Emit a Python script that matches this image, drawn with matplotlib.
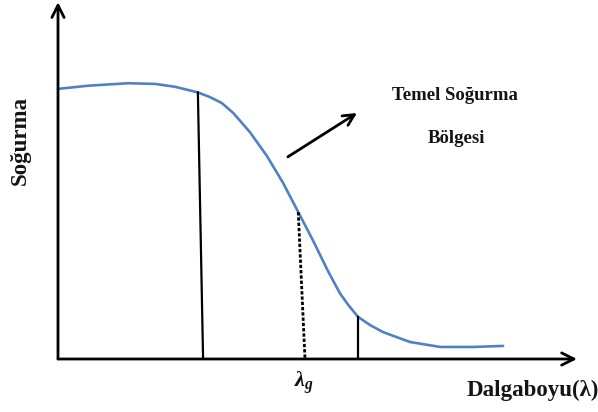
import matplotlib
matplotlib.use("Agg")
import matplotlib.pyplot as plt

plt.rcParams['font.family'] = ['Liberation Serif', 'DejaVu Serif']
plt.rcParams['mathtext.fontset'] = 'custom'
plt.rcParams['mathtext.it'] = 'Liberation Serif:italic:bold'
plt.rcParams['mathtext.rm'] = 'Liberation Serif:bold'

# absorption curve (wavelength, absorbance), 0-100 units
wavelength = [0.0, 5.8, 13.5, 18.7, 22.5, 26.9, 29.2, 31.5, 33.7, 36.9, 40.2,
              43.3, 46.2, 49.0, 51.9, 54.2, 55.8, 57.7, 60.0, 62.5, 67.7,
              73.5, 79.8, 85.6]
absorbance = [76.3, 77.2, 77.9, 77.7, 76.9, 75.3, 74.0, 72.3, 69.5, 64.1, 57.3,
              49.7, 41.5, 33.6, 24.9, 18.6, 15.3, 11.9, 9.6, 7.6, 4.8,
              3.4, 3.4, 3.7]

# vertical markers: (x at curve, x at axis, height)
solid_markers = [(26.9, 27.9, 75.3), (57.7, 57.7, 11.9)]
gap_marker = (46.2, 47.5, 41.5)

# arrow pointing to the label
arrow_start = (44.2, 57.1)
arrow_end = (57.5, 69.5)

fig = plt.figure(figsize=(5.98, 4.12), dpi=100)
ax = fig.add_axes([58 / 598, 1 - 359 / 412, 520 / 598, 354 / 412])
ax.set_xlim(0, 100)
ax.set_ylim(0, 100)
ax.axis('off')

# axes with arrow heads
ax.annotate('', xy=(99.8, 0), xytext=(0, 0),
            arrowprops=dict(arrowstyle='->', lw=2.0, color='black',
                            mutation_scale=22, shrinkA=0, shrinkB=0),
            annotation_clip=False)
ax.annotate('', xy=(0, 100.8), xytext=(0, 0),
            arrowprops=dict(arrowstyle='->', lw=2.0, color='black',
                            mutation_scale=22, shrinkA=0, shrinkB=0),
            annotation_clip=False)

ax.plot(wavelength, absorbance, color='#4F81C7', lw=1.9, clip_on=False,
        solid_capstyle='round', solid_joinstyle='round')

for xt, xb, h in solid_markers:
    ax.plot([xt, xb], [h, 0], color='black', lw=1.6)
ax.plot([gap_marker[0], gap_marker[1]], [gap_marker[2], 0], color='black',
        lw=2.0, ls=(0, (1.2, 0.7)))

ax.annotate('', xy=arrow_end, xytext=arrow_start,
            arrowprops=dict(arrowstyle='->', lw=2.0, color='black',
                            mutation_scale=20, shrinkA=0, shrinkB=0))

ax.text(76.3, 74.3, 'Temel Soğurma', ha='center', va='center',
        fontsize=13.5, fontweight='bold', color='#141414')
ax.text(76.7, 62.4, 'Bölgesi', ha='center', va='center',
        fontsize=13.5, fontweight='bold', color='#141414')
ax.text(-7.3, 61.6, 'Soğurma', ha='center', va='center', rotation=90,
        fontsize=16.5, fontweight='bold', color='#141414', clip_on=False)
ax.text(91.2, -8.8, 'Dalgaboyu(λ)', ha='center', va='center',
        fontsize=16.5, fontweight='bold', color='#141414', clip_on=False)
ax.text(47.3, -6.8, r'$\lambda_g$', ha='center', va='center',
        fontsize=16, color='#141414', clip_on=False)

fig.savefig('out.png', dpi=100)
